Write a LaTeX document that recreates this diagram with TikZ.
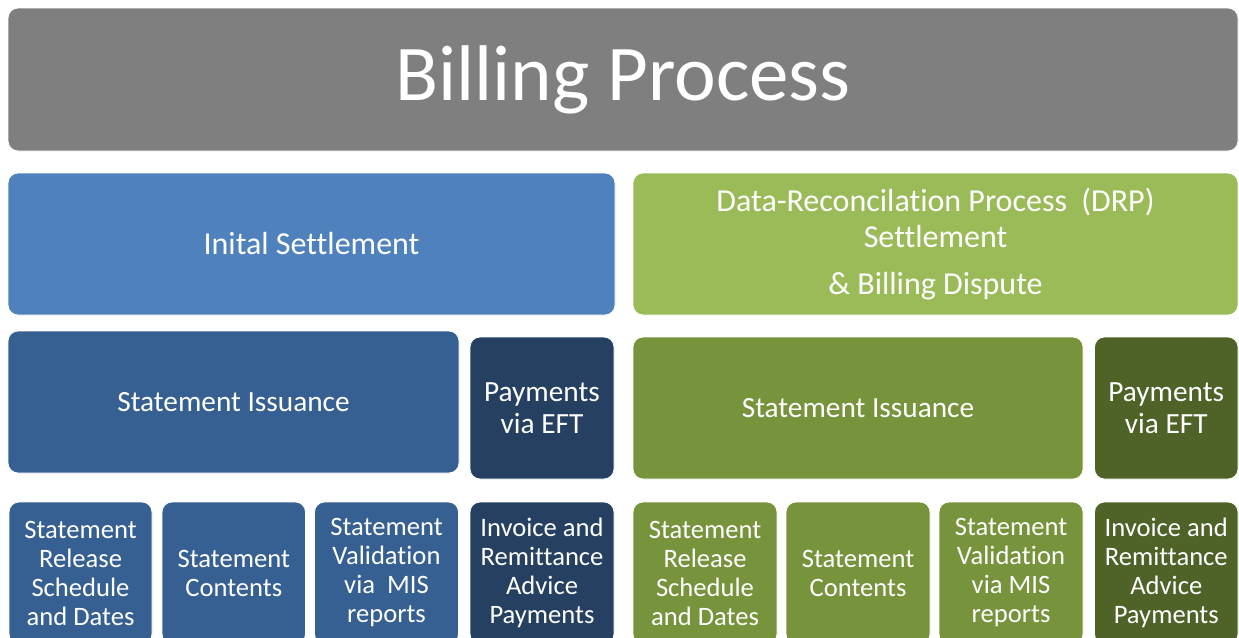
\documentclass[tikz,border=0pt]{standalone}
\usepackage{fontspec}
\setmainfont[Ligatures=NoCommon]{Carlito}
\definecolor{cgray}{HTML}{7F7F7F}
\definecolor{blueA}{HTML}{4F81BD}
\definecolor{blueB}{HTML}{376092}
\definecolor{blueC}{HTML}{254061}
\definecolor{greenA}{HTML}{9BBB59}
\definecolor{greenB}{HTML}{77933C}
\definecolor{greenC}{HTML}{4F6228}
\tikzset{
  box/.style={rounded corners=10pt, draw=white, line width=0.8pt, text=white,
    align=center, inner sep=0pt, outer sep=0pt, anchor=north west},
  big/.style={font=\fontsize{29.3}{32}\selectfont},
  small/.style={font=\fontsize{26.6}{29}\selectfont},
}
\begin{document}
\begin{tikzpicture}[x=1pt,y=-1pt]
\useasboundingbox (0,0) rectangle (1239,637);
\clip (0,0) rectangle (1239,637);
\node[box, fill=cgray, minimum width=1230pt, minimum height=143pt,
      font=\fontsize{79}{90}\selectfont] (title) at (8,8) {Billing Process};
\node[box, fill=blueA, minimum width=607pt, minimum height=142pt,
      font=\fontsize{32}{36}\selectfont] (init) at (8,173) {Inital Settlement};
\node[box, fill=greenA, minimum width=605pt, minimum height=142pt,
      font=\fontsize{32}{36}\selectfont] (drp) at (633,173)
  {Data-Reconcilation Process\ \ (DRP)\\Settlement\\[11pt]\&~Billing Dispute};
\node[box, big, fill=blueB, minimum width=451pt, minimum height=142pt] (siL) at (8,331) {Statement Issuance};
\node[box, big, fill=blueC, minimum width=144pt, minimum height=142pt] (payL) at (470,337) {Payments\\via EFT};
\node[box, big, fill=greenB, minimum width=450pt, minimum height=142pt] (siR) at (633,337) {Statement Issuance};
\node[box, big, fill=greenC, minimum width=143.5pt, minimum height=142pt] (payR) at (1094.5,337) {Payments\\via EFT};
\node[box, small, fill=blueB, minimum width=143pt, minimum height=142pt] (relL) at (9,502) {Statement\\Release\\Schedule\\and Dates};
\node[box, small, fill=blueB, minimum width=143.5pt, minimum height=142pt] (conL) at (162,502) {Statement\\Contents};
\node[box, small, fill=blueB, minimum width=144pt, minimum height=142pt] (valL) at (314.5,502) {Statement\\Validation\\via\ \ MIS\\reports};
\node[box, small, fill=blueC, minimum width=144pt, minimum height=142pt] (invL) at (470,502) {Invoice and\\Remittance\\Advice\\Payments};
\node[box, small, fill=greenB, minimum width=144pt, minimum height=142pt] (relR) at (633,502) {Statement\\Release\\Schedule\\and Dates};
\node[box, small, fill=greenB, minimum width=144pt, minimum height=142pt] (conR) at (786,502) {Statement\\Contents};
\node[box, small, fill=greenB, minimum width=144pt, minimum height=142pt] (valR) at (939,502) {Statement\\Validation\\via MIS\\reports};
\node[box, small, fill=greenC, minimum width=143.5pt, minimum height=142pt] (invR) at (1094.5,502) {Invoice and\\Remittance\\Advice\\Payments};
\end{tikzpicture}
\end{document}
